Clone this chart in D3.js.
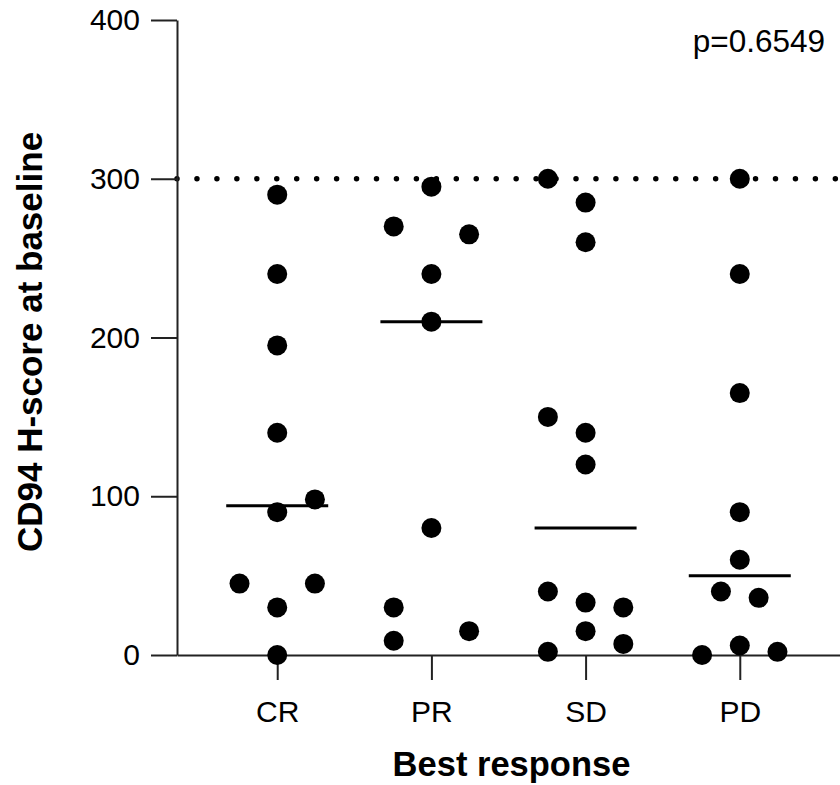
<!DOCTYPE html>
<html>
<head>
<meta charset="utf-8">
<script src="https://cdn.jsdelivr.net/npm/d3@7"></script>
<style>
  body { margin: 0; background: #fff; }
  svg { font-family: "Liberation Sans", Arial, Helvetica, sans-serif; }
</style>
</head>
<body>
<svg id="svg" width="840" height="785"></svg>
<script>
// CD94 H-score by best response, scatter dot plot with medians

var categories = ["CR", "PR", "SD", "PD"];
var yTicks = [0, 100, 200, 300, 400];
var pText = "p=0.6549";
var refValue = 300;

// values per group, and the column slot each dot sits in (-1 left .. 1 right)
var crValues = [290, 240, 195, 140, 98, 90, 45, 45, 30, 0];
var crSlots  = [0, 0, 0, 0, 1, 0, -1, 1, 0, 0];
var prValues = [295, 270, 265, 240, 210, 80, 30, 15, 9];
var prSlots  = [0, -1, 1, 0, 0, 0, -1, 1, -1];
var sdValues = [300, 285, 260, 150, 140, 120, 40, 33, 30, 15, 7, 2];
var sdSlots  = [-1, 0, 0, -1, 0, 0, -1, 0, 1, 0, 1, -1];
var pdValues = [300, 240, 165, 90, 60, 40, 36, 6, 2, 0];
var pdSlots  = [0, 0, 0, 0, 0, -0.5, 0.5, 0, 1, -1];

var groups = [
  {name: "CR", values: crValues, slots: crSlots},
  {name: "PR", values: prValues, slots: prSlots},
  {name: "SD", values: sdValues, slots: sdSlots},
  {name: "PD", values: pdValues, slots: pdSlots}
];

var svg = d3.select("#svg");
var plotLeft = 177, plotRight = 840, plotTop = 20, plotBottom = 655;

var x = d3.scalePoint().domain(categories).range([plotLeft, plotRight]).padding(0.65);
var y = d3.scaleLinear().domain([0, 400]).range([plotBottom, plotTop]);
var jitter = d3.scaleLinear().domain([-1, 1]).range([-37.7, 37.7]);

// dotted reference line
svg.append("line")
  .attr("x1", plotLeft).attr("x2", plotRight)
  .attr("y1", y(refValue)).attr("y2", y(refValue))
  .attr("stroke", "#000")
  .attr("stroke-width", 5.5)
  .attr("stroke-linecap", "round")
  .attr("stroke-dasharray", "0,19.95");

// axes
var yAxis = svg.append("g")
  .attr("transform", "translate(" + plotLeft + ",0)")
  .call(d3.axisLeft(y).tickValues(yTicks).tickSize(26).tickSizeOuter(0).tickPadding(11));

var xAxis = svg.append("g")
  .attr("transform", "translate(0," + plotBottom + ")")
  .call(d3.axisBottom(x).tickSize(25).tickSizeOuter(0).tickPadding(21));

[yAxis, xAxis].forEach(function(g) {
  g.selectAll("path, line").attr("stroke", "#222").attr("stroke-width", 2);
  g.selectAll("text").attr("fill", "#000").attr("font-size", 30)
    .attr("font-family", "'Liberation Sans', Arial, Helvetica, sans-serif");
});

// medians
svg.selectAll(".median")
  .data(groups)
  .enter().append("line")
  .attr("class", "median")
  .attr("x1", function(d) { return x(d.name) - 51; })
  .attr("x2", function(d) { return x(d.name) + 51; })
  .attr("y1", function(d) { return y(d3.median(d.values)); })
  .attr("y2", function(d) { return y(d3.median(d.values)); })
  .attr("stroke", "#000")
  .attr("stroke-width", 3);

// dots
var points = [];
groups.forEach(function(g) {
  g.values.forEach(function(v, i) {
    points.push({name: g.name, value: v, slot: g.slots[i]});
  });
});

svg.selectAll(".dot")
  .data(points)
  .enter().append("circle")
  .attr("class", "dot")
  .attr("cx", function(d) { return x(d.name) + jitter(d.slot); })
  .attr("cy", function(d) { return y(d.value); })
  .attr("r", 10)
  .attr("fill", "#000");

// titles
svg.append("text")
  .attr("transform", "translate(42,342) rotate(-90)")
  .attr("text-anchor", "middle")
  .attr("font-weight", "bold")
  .attr("font-size", 35)
  .text("CD94 H-score at baseline");

svg.append("text")
  .attr("x", (plotLeft + plotRight) / 2 + 3)
  .attr("y", 776)
  .attr("text-anchor", "middle")
  .attr("font-weight", "bold")
  .attr("font-size", 34.5)
  .text("Best response");

svg.append("text")
  .attr("x", 825)
  .attr("y", 52)
  .attr("text-anchor", "end")
  .attr("font-size", 31.5)
  .text(pText);
</script>
</body>
</html>
